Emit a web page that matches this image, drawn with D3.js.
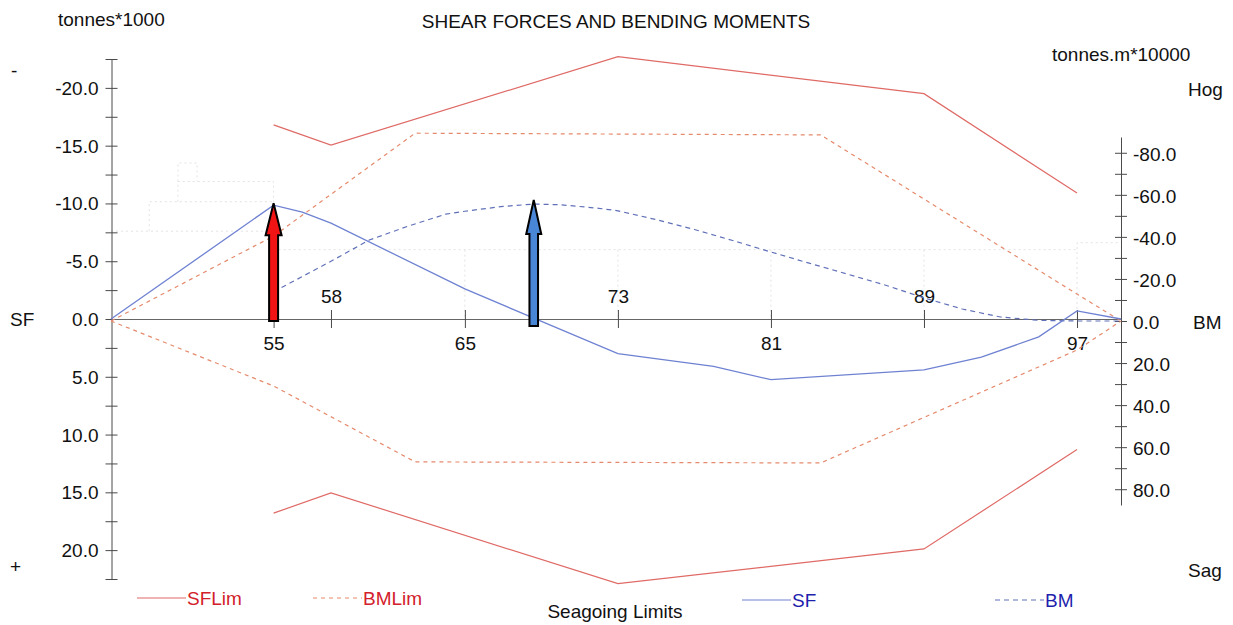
<!DOCTYPE html>
<html>
<head>
<meta charset="utf-8">
<script src="https://cdn.jsdelivr.net/npm/d3@7"></script>
<style>
  html, body { margin: 0; padding: 0; background: #fff; }
  svg text { font-family: "Liberation Sans", Arial, Helvetica, sans-serif; }
</style>
</head>
<body>
<svg id="chart" width="1233" height="625"></svg>
<script>
// ---- Data: longitudinal strength along the hull (frame numbers) ----
// Shear force (tonnes*1000)
const sfFrames = [46.5, 55, 56.5, 58, 65, 73, 78, 81, 89, 92, 95, 97, 99.3];
const sfValues = [0, -9.85, -9.25, -8.3, -2.6, 3.0, 4.1, 5.25, 4.4, 3.3, 1.55, -0.7, 0];

// Bending moment (tonnes.m*10000)
const bmFrames = [55, 58, 60, 62, 64, 65, 67, 68.6, 70, 72, 73, 75, 77, 79, 81, 83, 85, 87, 89, 91, 93, 95, 97, 99.3];
const bmValues = [-13.9, -28.4, -38.5, -45.0, -50.8, -52.2, -54.5, -55.6, -55.3, -53.6, -52.4, -48.2, -43.5, -38.3, -32.8, -27.5, -22.3, -17.0, -11.0, -5.7, -1.9, -0.3, 0, 0];

// Seagoing shear force limits
const sfLimFrames = [55, 58, 73, 89, 97];
const sfLimHog = [-16.8, -15.05, -22.7, -19.5, -10.9];
const sfLimSag = [16.8, 15.05, 22.9, 19.9, 11.3];

// Seagoing bending moment limits
const bmLimFrames = [46.5, 55, 62.4, 83.6, 97, 99.3];
const bmLimHog = [0, -40.4, -89.3, -88.5, -12.8, 0];
const bmLimSag = [0, 30.9, 67.0, 67.5, 13.8, 0];

// Axis ticks
const frameTicks = [55, 58, 65, 73, 81, 89, 97];
const sfTicks = d3.range(-22.5, 22.51, 2.5);
const bmTicks = d3.range(-80, 80.1, 10);

// Faint ship profile behind the curves (frame, SF units)
const hullProfile = [
  [[46.5, -7.6], [55, -7.6]],
  [[55, -6.0], [97, -6.0]],
  [[97, 0], [97, -6.6], [99.3, -6.6]],
  [[48.5, -7.6], [48.5, -10.15], [55, -10.15]],
  [[50, -10.15], [50, -11.9], [55, -11.9], [55, -6.0]],
  [[50, -11.9], [50, -13.5], [51, -13.5], [51, -11.9]],
  [[65, -6.0], [65, 0]],
  [[73, -6.0], [73, 0]],
  [[81, -6.0], [81, 0]],
  [[89, -6.0], [89, 0]]
];

// Peak markers: max shear force and max bending moment
const peakFrames = [55, 68.6];

// ---- Scales ----
const svg = d3.select("#chart");
const x = d3.scaleLinear().domain([46.5, 99.3]).range([111, 1121]);
const yL = d3.scaleLinear().domain([-22.5, 22.5]).range([59, 579]);
const yR = d3.scaleLinear().domain([-87.5, 87.5]).range([137, 505]);

const zip = (a, b) => a.map((v, i) => [v, b[i]]);
const lineL = d3.line().x(d => x(d[0])).y(d => yL(d[1]));
const lineR = d3.line().x(d => x(d[0])).y(d => yR(d[1]));

// ---- Ship profile ----
svg.append("g")
  .selectAll("path")
  .data(hullProfile)
  .join("path")
  .attr("d", lineL)
  .attr("fill", "none")
  .attr("stroke", "#e3e3e3")
  .attr("stroke-width", 1)
  .attr("stroke-dasharray", "2,3");

// ---- Axes ----
const axisColor = "#4a4a4a";
const fontSize = 19;

// Left (SF) axis
const gL = svg.append("g").attr("transform", "translate(111.5,0)")
  .call(d3.axisLeft(yL).tickValues(sfTicks).tickSizeInner(6).tickSizeOuter(0).tickPadding(7)
    .tickFormat(d => Math.abs(d % 5) < 1e-9 ? d.toFixed(1) : ""));
gL.selectAll("line").attr("x1", 6).attr("stroke", axisColor);
gL.select(".domain").attr("stroke", axisColor);
gL.selectAll("text").attr("font-size", fontSize).attr("fill", "#111")
  .attr("font-family", "Liberation Sans, Arial, sans-serif").attr("dy", "0.34em");

// Right (BM) axis
const gR = svg.append("g").attr("transform", "translate(1121,0)")
  .call(d3.axisRight(yR).tickValues(bmTicks).tickSizeInner(6).tickSizeOuter(0).tickPadding(6)
    .tickFormat(d => Math.abs(d % 20) < 1e-9 ? d.toFixed(1) : ""));
gR.selectAll("line").attr("x1", -6).attr("stroke", axisColor);
gR.select(".domain").attr("stroke", axisColor);
gR.selectAll("text").attr("font-size", fontSize).attr("fill", "#111")
  .attr("font-family", "Liberation Sans, Arial, sans-serif").attr("dy", "0.38em");

// Frame axis on the zero line, labels alternating below / above
const gX = svg.append("g").attr("transform", `translate(0,${yL(0)})`)
  .call(d3.axisBottom(x).tickValues(frameTicks).tickSizeInner(9).tickSizeOuter(0)
    .tickFormat(d3.format("d")));
gX.selectAll("line").attr("y1", -9).attr("stroke", axisColor);
gX.select(".domain").attr("stroke", "#666");
gX.selectAll("text").attr("font-size", fontSize).attr("fill", "#111")
  .attr("font-family", "Liberation Sans, Arial, sans-serif")
  .attr("dy", 0)
  .attr("y", (d, i) => i % 2 === 0 ? 31 : -16);

// ---- Series ----
const series = [
  { pts: zip(bmLimFrames, bmLimHog), gen: lineR, color: "#e58a6c", dash: "4,4", w: 1.2 },
  { pts: zip(bmLimFrames, bmLimSag), gen: lineR, color: "#e58a6c", dash: "4,4", w: 1.2 },
  { pts: zip(sfLimFrames, sfLimHog), gen: lineL, color: "#df6a66", dash: null, w: 1.2 },
  { pts: zip(sfLimFrames, sfLimSag), gen: lineL, color: "#df6a66", dash: null, w: 1.2 },
  { pts: zip(bmFrames, bmValues), gen: lineR, color: "#6070b8", dash: "5,4", w: 1.2 },
  { pts: zip(sfFrames, sfValues), gen: lineL, color: "#6f82d2", dash: null, w: 1.3 }
];
svg.append("g")
  .selectAll("path")
  .data(series)
  .join("path")
  .attr("d", s => s.gen(s.pts))
  .attr("fill", "none")
  .attr("stroke", s => s.color)
  .attr("stroke-width", s => s.w)
  .attr("stroke-dasharray", s => s.dash);

// ---- Peak arrows ----
function arrowPath(cx, tipY, baseY, sw, hw, hl) {
  return `M${cx - sw},${baseY} L${cx - sw},${tipY + hl} L${cx - hw},${tipY + hl} ` +
         `L${cx},${tipY} L${cx + hw},${tipY + hl} L${cx + sw},${tipY + hl} L${cx + sw},${baseY} Z`;
}
const sfPeak = sfValues[sfFrames.indexOf(peakFrames[0])];
const bmPeak = bmValues[bmFrames.indexOf(peakFrames[1])];
const arrows = [
  { cx: x(peakFrames[0]), tip: yL(sfPeak) - 2, base: yL(0) + 2, fill: "#f01414", sw: 4.5, hw: 8, hl: 32 },
  { cx: x(peakFrames[1]), tip: yR(bmPeak) - 4, base: yL(0) + 7, fill: "#4a86d6", sw: 4.3, hw: 7.5, hl: 34 }
];
svg.append("g")
  .selectAll("path")
  .data(arrows)
  .join("path")
  .attr("d", a => arrowPath(a.cx, a.tip, a.base, a.sw, a.hw, a.hl))
  .attr("fill", a => a.fill)
  .attr("stroke", "#000")
  .attr("stroke-width", 2)
  .attr("stroke-linejoin", "miter");

// ---- Titles and labels ----
const labels = [
  { t: "SHEAR FORCES AND BENDING MOMENTS", x: 616, y: 28, a: "middle" },
  { t: "tonnes*1000", x: 58, y: 26, a: "start" },
  { t: "tonnes.m*10000", x: 1052, y: 61, a: "start" },
  { t: "Hog", x: 1188, y: 96, a: "start" },
  { t: "Sag", x: 1188, y: 577, a: "start" },
  { t: "-", x: 11, y: 77, a: "start" },
  { t: "+", x: 10, y: 573, a: "start" },
  { t: "SF", x: 10, y: 326, a: "start" },
  { t: "BM", x: 1193, y: 329, a: "start" },
  { t: "Seagoing Limits", x: 615, y: 618, a: "middle" }
];
svg.append("g")
  .selectAll("text")
  .data(labels)
  .join("text")
  .attr("x", d => d.x)
  .attr("y", d => d.y)
  .attr("text-anchor", d => d.a)
  .attr("font-size", fontSize)
  .attr("fill", "#111")
  .text(d => d.t);

// ---- Legend ----
const legend = [
  { t: "SFLim", x0: 137, y: 598, color: "#df6a66", dash: null, txt: "#d3202a" },
  { t: "BMLim", x0: 313, y: 598, color: "#e58a6c", dash: "4,4", txt: "#d3202a" },
  { t: "SF", x0: 742, y: 600, color: "#6f82d2", dash: null, txt: "#1f1fae" },
  { t: "BM", x0: 995, y: 600, color: "#6070b8", dash: "5,4", txt: "#1f1fae" }
];
const lg = svg.append("g").selectAll("g").data(legend).join("g");
lg.append("line")
  .attr("x1", d => d.x0).attr("x2", d => d.x0 + 49)
  .attr("y1", d => d.y).attr("y2", d => d.y)
  .attr("stroke", d => d.color).attr("stroke-width", 1.2)
  .attr("stroke-dasharray", d => d.dash);
lg.append("text")
  .attr("x", d => d.x0 + 50).attr("y", d => d.y + 7)
  .attr("font-size", fontSize)
  .attr("fill", d => d.txt)
  .text(d => d.t);
</script>
</body>
</html>
